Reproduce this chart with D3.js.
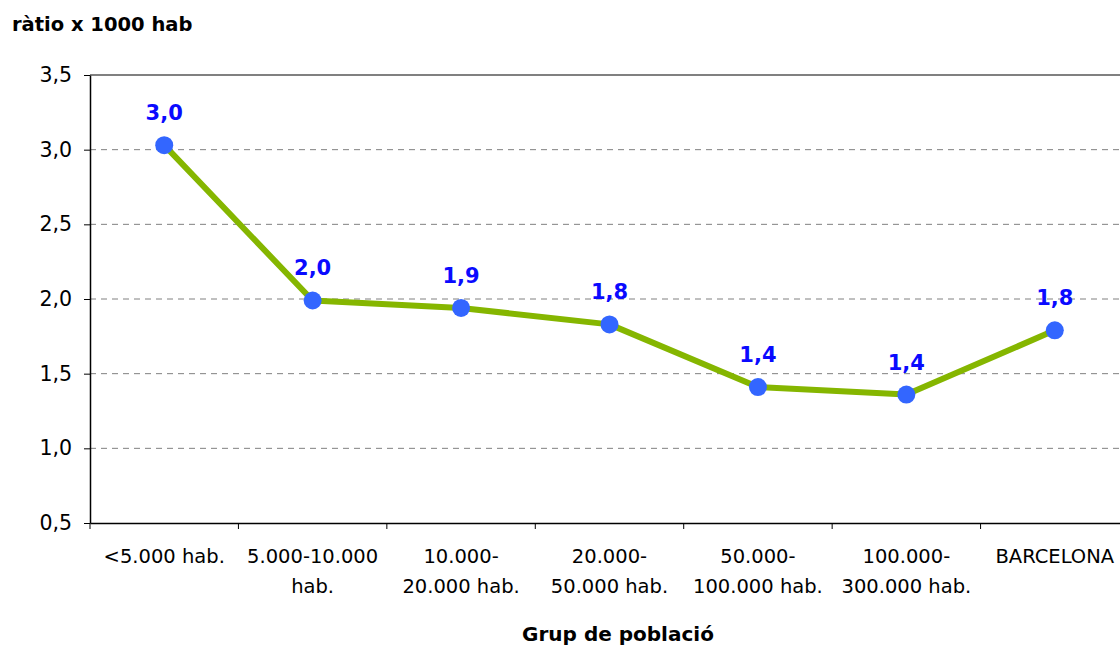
<!DOCTYPE html>
<html>
<head>
<meta charset="utf-8">
<script src="https://cdn.jsdelivr.net/npm/d3@7"></script>
<style>
  html, body { margin: 0; padding: 0; background: #fff; }
  svg { display: block; font-family: "DejaVu Sans", Verdana, sans-serif; }
</style>
</head>
<body>
<svg id="chart" width="1120" height="645"></svg>
<script>
// Ratio per 1000 inhabitants by population group
const categories = [
  ["<5.000 hab."],
  ["5.000-10.000", "hab."],
  ["10.000-", "20.000 hab."],
  ["20.000-", "50.000 hab."],
  ["50.000-", "100.000 hab."],
  ["100.000-", "300.000 hab."],
  ["BARCELONA"]
];
const values = [3.03, 1.99, 1.94, 1.83, 1.41, 1.36, 1.79];
const yTicks = [0.5, 1.0, 1.5, 2.0, 2.5, 3.0, 3.5];

const svg = d3.select("#chart");
const margin = { left: 90, top: 75, right: 1129, bottom: 523 };

const x = d3.scaleBand()
  .domain(d3.range(categories.length))
  .range([margin.left, margin.right])
  .paddingInner(0).paddingOuter(0);

const y = d3.scaleLinear().domain([0.5, 3.5]).range([margin.bottom, margin.top]);

const fmt = v => d3.format(".1f")(v).replace(".", ",");

// dashed gridlines
svg.append("g")
  .selectAll("line")
  .data(yTicks.filter(t => t > 0.5 && t < 3.5))
  .join("line")
  .attr("x1", margin.left).attr("x2", margin.right)
  .attr("y1", d => y(d)).attr("y2", d => y(d))
  .attr("stroke", "#808080").attr("stroke-width", 1)
  .attr("stroke-dasharray", "6,5");

// top border of the plot area
svg.append("line")
  .attr("x1", margin.left).attr("x2", margin.right)
  .attr("y1", y(3.5)).attr("y2", y(3.5))
  .attr("stroke", "#808080").attr("stroke-width", 2);

// y axis
const yAxis = svg.append("g")
  .attr("transform", `translate(${margin.left},0)`)
  .call(d3.axisLeft(y).tickValues(yTicks).tickFormat(fmt).tickSize(6).tickSizeOuter(0));
yAxis.select(".domain").attr("stroke", "#000").attr("stroke-width", 1.5);
yAxis.selectAll(".tick line").attr("stroke", "#000");
yAxis.selectAll(".tick text")
  .attr("font-size", 20.5).attr("fill", "#000")
  .attr("font-family", "DejaVu Sans, sans-serif")
  .attr("x", -18);

// x axis
const xAxis = svg.append("g")
  .attr("transform", `translate(0,${margin.bottom})`)
  .call(d3.axisBottom(x).tickFormat("").tickSize(0).tickSizeOuter(0));
xAxis.select(".domain").attr("stroke", "#000").attr("stroke-width", 1.5);
xAxis.selectAll(".tick").remove();

// category boundary ticks
svg.append("g")
  .selectAll("line")
  .data(d3.range(categories.length + 1))
  .join("line")
  .attr("x1", i => margin.left + i * x.step())
  .attr("x2", i => margin.left + i * x.step())
  .attr("y1", margin.bottom).attr("y2", margin.bottom + 6)
  .attr("stroke", "#000").attr("stroke-width", 1);

// category labels
const catG = svg.append("g");
categories.forEach((lines, i) => {
  const t = catG.append("text")
    .attr("x", x(i) + x.bandwidth() / 2)
    .attr("y", 563)
    .attr("text-anchor", "middle")
    .attr("font-size", 19.5)
    .attr("fill", "#000");
  lines.forEach((ln, j) => {
    t.append("tspan")
      .attr("x", x(i) + x.bandwidth() / 2)
      .attr("dy", j === 0 ? 0 : 30)
      .text(ln);
  });
});

// series line
const cx = i => x(i) + x.bandwidth() / 2;
svg.append("path")
  .datum(values)
  .attr("fill", "none")
  .attr("stroke", "#85b600")
  .attr("stroke-width", 6)
  .attr("stroke-linejoin", "round")
  .attr("d", d3.line().x((d, i) => cx(i)).y(d => y(d)));

// markers
svg.append("g")
  .selectAll("circle")
  .data(values)
  .join("circle")
  .attr("cx", (d, i) => cx(i))
  .attr("cy", d => y(d))
  .attr("r", 9)
  .attr("fill", "#3366ff");

// value labels
svg.append("g")
  .selectAll("text")
  .data(values)
  .join("text")
  .attr("x", (d, i) => cx(i))
  .attr("y", d => y(d) - 25)
  .attr("text-anchor", "middle")
  .attr("font-size", 21)
  .attr("font-weight", "bold")
  .attr("fill", "#0a0aff")
  .text(fmt);

// titles
svg.append("text")
  .attr("x", 12).attr("y", 31)
  .attr("font-size", 19.5).attr("font-weight", "bold").attr("fill", "#000")
  .text("ràtio x 1000 hab");

svg.append("text")
  .attr("x", 618).attr("y", 641)
  .attr("text-anchor", "middle")
  .attr("font-size", 20).attr("font-weight", "bold").attr("fill", "#000")
  .text("Grup de població");
</script>
</body>
</html>
